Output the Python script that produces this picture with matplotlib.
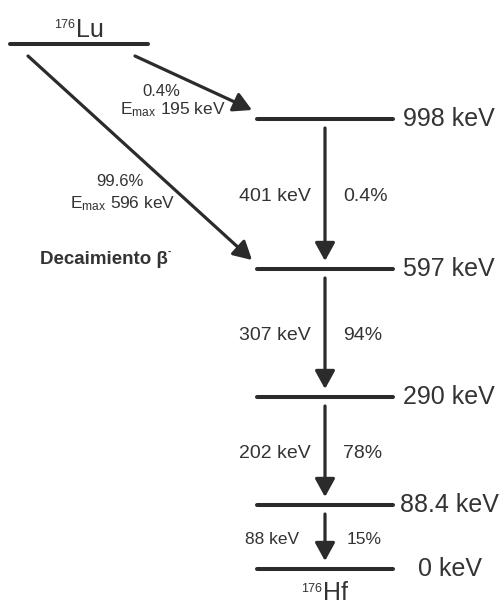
import matplotlib
matplotlib.use("Agg")
import matplotlib.pyplot as plt

plt.rcParams["font.family"] = ["Liberation Sans", "DejaVu Sans"]
plt.rcParams["mathtext.fontset"] = "custom"
plt.rcParams["mathtext.rm"] = "Liberation Sans"
plt.rcParams["mathtext.it"] = "Liberation Sans:italic"
plt.rcParams["mathtext.bf"] = "Liberation Sans:bold"
plt.rcParams["mathtext.default"] = "regular"

# Energy levels of 176Hf (keV) and their labels
level_energies = [998, 597, 290, 88.4, 0]
level_labels = ["998 keV", "597 keV", "290 keV", "88.4 keV", "0 keV"]

# Gamma transitions: (from level index, to level index, energy label, intensity label)
gamma_from = [0, 1, 2, 3]
gamma_to = [1, 2, 3, 4]
gamma_energy = ["401 keV", "307 keV", "202 keV", "88 keV"]
gamma_intensity = ["0.4%", "94%", "78%", "15%"]

# Beta branches from 176Lu: (target level index, branching, Emax)
beta_target = [0, 1]
beta_branch = ["0.4%", "99.6%"]
beta_emax = ["195 keV", "596 keV"]

# Layout (pixel coordinates of the schematic)
W, H = 502, 605
level_y = [119, 269, 397, 505, 569]
level_label_x = [403, 403, 403, 400, 418]
level_x0, level_x1 = 257, 393
parent_y, parent_x0, parent_x1 = 44, 10, 148
gamma_x = 325
gamma_left_edge = [311, 311, 311, 299]
gamma_right_edge = [343, 343, 343, 347]
gamma_fs = [14, 14, 14, 12.5]
ink = "#2b2b2b"
txt = "#333333"

fig = plt.figure(figsize=(W / 100, H / 100), dpi=100)
ax = fig.add_axes([0, 0, 1, 1])
ax.set_xlim(0, W)
ax.set_ylim(H, 0)
ax.axis("off")

# Parent level
ax.plot([parent_x0, parent_x1], [parent_y, parent_y], color=ink, lw=2.9,
        solid_capstyle="round")
ax.text(75, 28, "176", fontsize=9, color=txt, ha="right", va="baseline")
ax.text(76, 37, "Lu", fontsize=18, color=txt, ha="left", va="baseline")

# Daughter levels
for y, lab, xl in zip(level_y, level_labels, level_label_x):
    ax.plot([level_x0, level_x1], [y, y], color=ink, lw=2.9, solid_capstyle="round")
    ax.text(xl, y, lab, fontsize=18, color=txt, ha="left", va="center")

ax.text(322, 592, "176", fontsize=9, color=txt, ha="right", va="baseline")
ax.text(323, 604.5, "Hf", fontsize=18, color=txt, ha="left", va="bottom")

head = "-|>,head_length=1.0,head_width=0.55"

# Gamma cascade
for i, (a, b) in enumerate(zip(gamma_from, gamma_to)):
    y0 = level_y[a] + 9
    y1 = level_y[b] - 8
    ax.annotate("", xy=(gamma_x, y1), xytext=(gamma_x, y0),
                arrowprops=dict(arrowstyle=head, lw=2.3, color=ink,
                                shrinkA=0, shrinkB=0, mutation_scale=11))
    ym = (y0 + y1) / 2 + 2
    ax.text(gamma_left_edge[i], ym, gamma_energy[i], fontsize=gamma_fs[i],
            color=txt, ha="right", va="center")
    ax.text(gamma_right_edge[i], ym, gamma_intensity[i], fontsize=gamma_fs[i],
            color=txt, ha="left", va="center")

# Beta branches
beta_start = [(135, 56), (28, 56)]
beta_pct_xy = [(161, 91), (120, 181)]
beta_emax_xy = [(173, 114), (123, 208)]
for k, t in enumerate(beta_target):
    tip = (252, level_y[t] - 9)
    ax.annotate("", xy=tip, xytext=beta_start[k],
                arrowprops=dict(arrowstyle=head, lw=2.3, color=ink,
                                shrinkA=0, shrinkB=0, mutation_scale=11))
    ax.text(*beta_pct_xy[k], beta_branch[k], fontsize=12, color=txt,
            ha="center", va="center")
    ax.text(*beta_emax_xy[k], r"E$_{\mathregular{max}}$ " + beta_emax[k],
            fontsize=12.5, color=txt, ha="center", va="baseline")

ax.text(40, 260, "Decaimiento β", fontsize=13.5, color=txt,
        fontweight="bold", ha="left", va="center")
ax.text(168, 252, "-", fontsize=7, color=txt, fontweight="bold",
        ha="left", va="center")

fig.savefig("out.png", dpi=100)
